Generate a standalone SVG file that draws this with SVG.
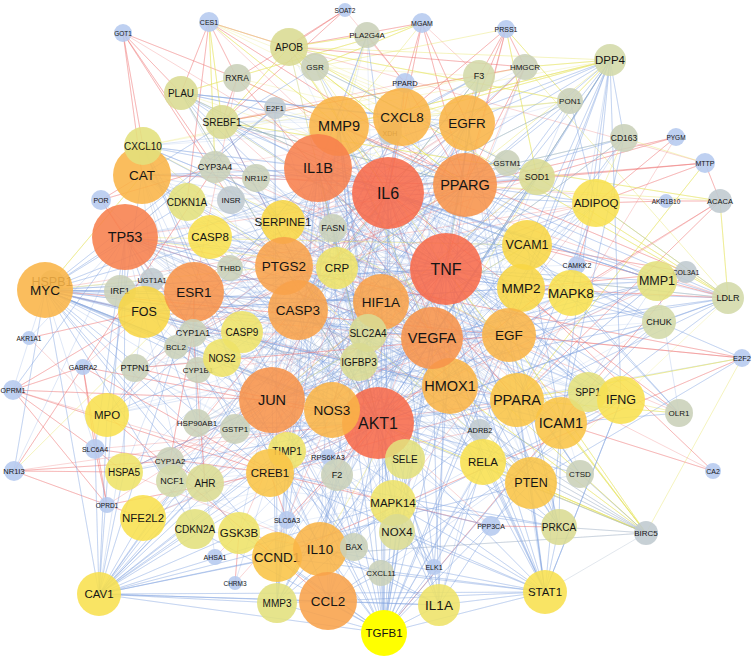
<svg xmlns="http://www.w3.org/2000/svg" width="754" height="658" viewBox="0 0 754 658">
<style>
.e{fill:none;stroke-width:.8;stroke-linejoin:round;stroke-linecap:round}
.m{stroke-width:.5}
.b{stroke:#7ea4e2;stroke-opacity:.33}
.r{stroke:#ec6f6f;stroke-opacity:.36}
.y{stroke:#e6e35e;stroke-opacity:.5}
.g{stroke:#9eb0c4;stroke-opacity:.38}
circle{fill-opacity:.88}
text{font-family:"Liberation Sans",Arial,sans-serif;text-anchor:middle;dominant-baseline:central;fill:#151515}
.c1{fill:#f76a4a}.c2{fill:#f7804c}.c3{fill:#f7934a}.c4{fill:#f8a24a}.c5{fill:#f9b447}.c6{fill:#f9c446}.c7{fill:#f8d644}.c8{fill:#f8e04e}.c9{fill:#eee368}.c10{fill:#e2e07c}.c11{fill:#dadb92}.c12{fill:#d3d9a8}.c13{fill:#c9d0b8}.c14{fill:#bfc9cf}.c15{fill:#b5c9ef}.tg{fill:#ffff00;fill-opacity:1}
.t6{font-size:6.5px}.t7{font-size:7px}.t75{font-size:7.5px}.t8{font-size:8px}.t85{font-size:8.5px}.t9{font-size:9px}.t10{font-size:10px}.t11{font-size:11.5px}.t12{font-size:12.5px}.t13{font-size:13.5px}.t14{font-size:14.5px}.t15{font-size:16px}
</style>
<rect width="754" height="658" fill="#fff"/>
<g id="edges">
<path class="e m b" d="M446 269L194 292 509 335 125 237 432 338 142 175 378 423 283 222 450 386 210 237 521 288 242 332 561 423 272 400 465 185 298 310 531 483 318 168 483 462 144 312 388 193 287 451 527 245 222 358 402 117 359 362 339 126 393 503 467 123 270 473 596 203 332 410 537 177 381 302 571 293 284 266 588 392 368 333 621 400 337 268 517 400 197 423 446 269"/>
<path class="e m b" d="M381 302L125 237 450 386 194 292 318 168 272 400 402 117 298 310 527 245 378 423 142 175 432 338 210 237 509 335 222 358 465 185 242 332 531 483 284 266 561 423 337 268 393 503 339 126 359 362 144 312 521 288 287 451 446 269 270 473 388 193 332 410 571 293 235 429 483 462 368 333 517 400 176 347 467 123 120 291 381 302"/>
<path class="e m b" d="M298 310L446 269 242 332 388 193 222 358 318 168 359 362 465 185 287 451 432 338 197 423 339 126 235 429 402 117 193 333 467 123 176 347 527 245 135 368 521 288 144 312 509 335 210 237 450 386 283 222 378 423 230 268 483 462 215 167 561 423 187 202 517 400 256 178 393 503 333 228 531 483 337 268 298 310"/>
<path class="e m b" d="M222 358L378 423 210 237 332 410 143 146 272 400 231 200 381 302 142 175 446 269 120 291 368 333 107 415 432 338 124 472 450 386 205 483 393 503 239 533 405 459 143 518 378 423 195 529 320 549 172 481 270 473 170 461 287 451 135 368 337 475 197 423 298 310"/>
<path class="e m b" d="M509 335L388 193 561 423 318 168 571 293 378 423 527 245 272 400 537 177 432 338 596 203 450 386 521 288 446 269 588 392 402 117 531 483 465 185 483 462 339 126 621 400 381 302 657 281 517 400 659 322 432 338 577 265 446 269 559 527 388 193 580 474 467 123 509 335"/>
<path class="e m b" d="M339 126L181 93 402 117 222 122 467 123 143 146 465 185 215 167 388 193 187 202 318 168 256 178 446 269 283 222 537 177 231 200 527 245 333 228 596 203 275 108 388 193 315 67 432 338 289 47 378 423 367 35 298 310 479 76 284 266 525 67 318 168 570 101 339 126"/>
<path class="e m r" d="M125 237L446 269 144 312 378 423 194 292 467 123 215 167 432 338 193 333 509 335 198 370 388 193 170 461 465 185 142 175 517 400 270 473 339 126 272 400 537 177 283 222 450 386 596 203 298 310"/>
<path class="e m y" d="M181 93L465 185 237 78 402 117 209 22 467 123 289 47 537 177 315 67 479 76 222 122 525 67 143 146 610 60 339 126 570 101 388 193 624 138 446 269 728 298 531 483 646 533 561 423"/>
<path class="e b" d="M446 269L378 423 388 193 272 400 465 185 298 310 467 123 328 601 318 168 450 386 125 237 432 338 142 175 531 483 339 126 561 423 194 292 509 335 144 312 517 400 284 266 483 462 402 117 320 549 381 302 45 290 446 269"/>
<path class="e b" d="M388 193L125 237 378 423 465 185 272 400 446 269 277 557 318 168 432 338 194 292 270 473 467 123 332 410 402 117 298 310 561 423 45 290 450 386 142 175 320 549 339 126 531 483 144 312 521 288 210 237 527 245 284 266 621 400 381 302 328 601 446 269"/>
<path class="e b" d="M378 423L318 168 517 400 125 237 381 302 467 123 272 400 596 203 298 310 393 503 388 193 143 518 446 269 270 473 432 338 45 290 561 423 402 117 194 292 483 462 339 126 277 557 465 185 320 549 509 335 142 175 450 386 284 266 531 483 318 168"/>
<path class="e b" d="M283 222L446 269 210 237 378 423 337 268 388 193 222 358 465 185 242 332 509 335 107 415 318 168 239 533 432 338 405 459 125 237 195 529 381 302 287 451 339 126 368 333 571 293 359 362 298 310 397 532 388 193 205 483 194 292 124 472 272 400 588 392 318 168 657 281 378 423 537 177 446 269"/>
<path class="e b" d="M143 146L446 269 187 202 378 423 222 122 465 185 142 175 527 245 144 312 521 288 272 400 561 423 125 237 483 462 320 549 388 193 277 557 432 338 143 518 450 386 45 290 393 503 318 168 270 473 378 423 339 126 332 410 467 123 320 549"/>
<path class="e b" d="M446 269L318 168 378 423 339 126 432 338 388 193 298 310 446 269 272 400 402 117 381 302 465 185 284 266 378 423 194 292 446 269 450 386 388 193 332 410 318 168 432 338 125 237 446 269"/>
<path class="e g" d="M230 268L388 193 120 291 378 423 176 347 446 269 197 423 432 338 135 368 465 185 235 429 318 168 193 333 450 386 231 200 509 335 256 178 378 423 215 167 517 400 333 228 272 400 275 108 125 237 198 370 142 175 152 280 194 292"/>
<path class="e r" d="M142 175L465 185 193 333 467 123 144 312 432 338 125 237 537 177 194 292 596 203 45 290 517 400 270 473 446 269 215 167 388 193 450 386 332 410 402 117 272 400 509 335 283 222 561 423 222 122 378 423"/>
<path class="e r" d="M270 473L378 423 143 518 272 400 124 472 320 549 239 533 388 193 170 461 446 269 205 483 432 338"/>
<path class="e y" d="M388 193L181 93 378 423 289 47 465 185 222 122 446 269 479 76 298 310 610 60 432 338 315 67 509 335 143 146 531 483 337 268 125 237 527 245 272 400 537 177 320 549"/>
<path class="e r" d="M123 33L237 78 123 33 181 93 123 33 143 146 123 33 142 175 123 33 215 167 123 33 231 200 123 33 388 193"/>
<path class="e r" d="M209 22L181 93 209 22 237 78 209 22 289 47 209 22 187 202 209 22 465 185 209 22 388 193"/>
<path class="e y" d="M209 22L222 122 209 22 215 167 209 22 339 126 209 22 289 47"/>
<path class="e r" d="M345 10L289 47 345 10 237 78 345 10 222 122 345 10 405 83"/>
<path class="e r" d="M422 23L289 47 422 23 405 83 422 23 467 123 422 23 388 193 422 23 465 185 422 23 479 76"/>
<path class="e y" d="M422 23L315 67 422 23 181 93 422 23 339 126"/>
<path class="e r" d="M506 29L479 76 506 29 467 123 506 29 525 67 506 29 465 185 506 29 402 117 506 29 446 269"/>
<path class="e y" d="M506 29L570 101 506 29 537 177 506 29 315 67"/>
<path class="e r" d="M405 83L402 117 405 83 465 185 405 83 367 35 405 83 222 122"/>
<path class="e b" d="M405 83L388 193 405 83 446 269"/>
<path class="e r" d="M101 200L142 175 101 200 125 237 101 200 215 167 101 200 193 333"/>
<path class="e b" d="M101 200L194 292"/>
<path class="e r" d="M676 137L596 203 676 137 465 185 676 137 537 177 676 137 517 400"/>
<path class="e r" d="M705 163L465 185 705 163 537 177 705 163 596 203 705 163 720 201 705 163 289 47"/>
<path class="e y" d="M705 163L517 400 705 163 624 138"/>
<path class="e r" d="M666 201L720 201 666 201 596 203 666 201 465 185"/>
<path class="e r" d="M720 201L517 400 720 201 571 293 720 201 509 335"/>
<path class="e y" d="M720 201L728 298 720 201 222 122 720 201 465 185"/>
<path class="e r" d="M577 265L378 423 577 265 571 293 577 265 596 203 577 265 393 503"/>
<path class="e r" d="M686 272L521 288 686 272 657 281 686 272 527 245 686 272 339 126 686 272 384 633 686 272 287 451"/>
<path class="e r" d="M742 358L125 237 742 358 277 557 742 358 45 290 742 358 509 335"/>
<path class="e b" d="M742 358L659 322 742 358 531 483 742 358 378 423"/>
<path class="e y" d="M742 358L517 400 742 358 646 533"/>
<path class="e y" d="M646 533L531 483 646 533 561 423 646 533 432 338 646 533 378 423 646 533 446 269 646 533 509 335 646 533 450 386 646 533 483 462"/>
<path class="e g" d="M646 533L559 527 646 533 580 474 646 533 125 237 646 533 298 310 646 533 242 332 646 533 45 290 646 533 277 557 646 533 545 592"/>
<path class="e r" d="M713 471L561 423 713 471 521 288 713 471 381 302"/>
<path class="e b" d="M679 413L561 423 679 413 527 245 679 413 446 269 679 413 465 185 679 413 657 281"/>
<path class="e y" d="M679 413L517 400 679 413 621 400"/>
<path class="e r" d="M679 413L388 193 679 413 337 268"/>
<path class="e b" d="M728 298L659 322 728 298 571 293 728 298 509 335 728 298 432 338 728 298 446 269 728 298 378 423 728 298 517 400 728 298 388 193 728 298 465 185 728 298 561 423 728 298 657 281"/>
<path class="e r" d="M728 298L521 288 728 298 527 245 728 298 222 122"/>
<path class="e y" d="M728 298L596 203 728 298 537 177 728 298 289 47 728 298 525 67"/>
<path class="e b" d="M610 60L537 177 610 60 596 203 610 60 465 185 610 60 446 269 610 60 388 193 610 60 432 338 610 60 509 335 610 60 521 288 610 60 527 245 610 60 378 423 610 60 561 423 610 60 318 168 610 60 467 123 610 60 621 400 610 60 624 138 610 60 571 293"/>
<path class="e y" d="M610 60L525 67 610 60 402 117 610 60 339 126 610 60 570 101 610 60 289 47"/>
<path class="e r" d="M525 67L465 185 525 67 222 122 525 67 289 47 525 67 467 123 525 67 378 423"/>
<path class="e b" d="M525 67L388 193 525 67 446 269"/>
<path class="e b" d="M570 101L465 185 570 101 446 269 570 101 388 193 570 101 596 203 570 101 537 177"/>
<path class="e y" d="M570 101L289 47 570 101 402 117"/>
<path class="e b" d="M624 138L446 269 624 138 388 193 624 138 320 549 624 138 561 423 624 138 465 185 624 138 328 601"/>
<path class="e y" d="M624 138L596 203"/>
<path class="e b" d="M479 76L446 269 479 76 388 193 479 76 432 338 479 76 318 168 479 76 402 117 479 76 467 123"/>
<path class="e r" d="M479 76L337 475"/>
<path class="e b" d="M367 35L388 193 367 35 318 168 367 35 284 266"/>
<path class="e y" d="M367 35L289 47 367 35 339 126"/>
<path class="e b" d="M315 67L142 175 315 67 537 177 315 67 388 193"/>
<path class="e y" d="M289 47L388 193 289 47 465 185 289 47 222 122 289 47 446 269"/>
<path class="e r" d="M237 78L465 185 237 78 517 400 237 78 222 122 237 78 194 292"/>
<path class="e b" d="M181 93L446 269 181 93 318 168 181 93 432 338 181 93 339 126 181 93 402 117 181 93 388 193 181 93 283 222 181 93 467 123 181 93 378 423 181 93 298 310"/>
<path class="e b" d="M222 122L465 185 222 122 378 423 222 122 388 193 222 122 446 269"/>
<path class="e b" d="M275 108L125 237 275 108 45 290 275 108 277 557 275 108 378 423"/>
<path class="e b" d="M143 146L621 400 143 146 446 269 143 146 388 193 143 146 328 601 143 146 320 549 143 146 318 168 143 146 402 117"/>
<path class="e b" d="M45 290L125 237 45 290 194 292 45 290 144 312 45 290 272 400 45 290 378 423 45 290 277 557 45 290 120 291 45 290 446 269 45 290 388 193 45 290 432 338 45 290 298 310 45 290 381 302 45 290 467 123 45 290 195 529 45 290 187 202 45 290 531 483 45 290 270 473 45 290 239 533 45 290 320 549 45 290 332 410 45 290 450 386 45 290 176 347 45 290 152 280"/>
<path class="e y" d="M45 290L142 175 45 290 284 266"/>
<path class="e r" d="M29 338L144 312 29 338 107 415"/>
<path class="e b" d="M29 338L125 237"/>
<path class="e r" d="M83 367L13 390 83 367 95 449 83 367 270 473 83 367 107 505 83 367 378 423 83 367 144 312"/>
<path class="e r" d="M13 390L95 449 13 390 107 505 13 390 270 473 13 390 144 312 13 390 272 400 13 390 393 503"/>
<path class="e b" d="M13 390L125 237 13 390 45 290"/>
<path class="e r" d="M95 449L107 505 95 449 124 472 95 449 270 473 95 449 378 423"/>
<path class="e b" d="M95 449L125 237 95 449 45 290"/>
<path class="e r" d="M14 471L170 461 14 471 124 472 14 471 143 518 14 471 215 167 14 471 517 400"/>
<path class="e b" d="M14 471L45 290 14 471 125 237"/>
<path class="e y" d="M14 471L194 292"/>
<path class="e r" d="M107 505L270 473 107 505 272 400"/>
<path class="e b" d="M124 472L378 423 124 472 125 237 124 472 272 400 124 472 298 310"/>
<path class="e r" d="M170 461L205 483 170 461 193 333 170 461 172 481"/>
<path class="e b" d="M215 557L197 423"/>
<path class="e r" d="M215 557L239 533"/>
<path class="e r" d="M235 583L239 533 235 583 378 423"/>
<path class="e b" d="M235 583L270 473"/>
<path class="e b" d="M99 594L143 518 99 594 195 529 99 594 239 533 99 594 277 557 99 594 320 549 99 594 378 423 99 594 272 400 99 594 332 410 99 594 270 473 99 594 205 483 99 594 124 472 99 594 194 292 99 594 125 237 99 594 45 290 99 594 328 601 99 594 277 603 99 594 384 633 99 594 393 503 99 594 545 592 99 594 432 338 99 594 446 269 99 594 467 123 99 594 439 605 99 594 107 415 99 594 95 449 99 594 531 483 99 594 388 193 99 594 381 302 99 594 298 310 99 594 144 312"/>
<path class="e b" d="M384 633L328 601 384 633 320 549 384 633 393 503 384 633 397 532 384 633 378 423 384 633 272 400 384 633 432 338 384 633 446 269 384 633 388 193 384 633 277 557 384 633 270 473 384 633 450 386 384 633 531 483 384 633 561 423 384 633 354 547 384 633 381 573 384 633 277 603 384 633 439 605 384 633 434 567 384 633 483 462 384 633 405 459 384 633 509 335 384 633 545 592 384 633 239 533 384 633 195 529 384 633 381 302 384 633 339 126 384 633 318 168 384 633 521 288 384 633 287 451 384 633 332 410 384 633 517 400"/>
<path class="e b" d="M439 605L318 168 439 605 388 193 439 605 446 269 439 605 328 601 439 605 320 549 439 605 378 423 439 605 561 423 439 605 393 503 439 605 483 462 439 605 545 592 439 605 381 573 439 605 432 338 439 605 509 335"/>
<path class="e b" d="M545 592L531 483 545 592 561 423 545 592 483 462 545 592 621 400 545 592 320 549 545 592 388 193 545 592 446 269 545 592 378 423 545 592 272 400 545 592 393 503 545 592 277 557 545 592 432 338 545 592 450 386 545 592 509 335 545 592 517 400 545 592 328 601 545 592 397 532 545 592 559 527 545 592 270 473 545 592 318 168 545 592 467 123"/>
<path class="e b" d="M277 603L328 601 277 603 320 549 277 603 287 451 277 603 277 557 277 603 272 400 277 603 378 423 277 603 339 126 277 603 446 269 277 603 318 168 277 603 657 281 277 603 521 288"/>
<path class="e b" d="M559 527L378 423 559 527 432 338 559 527 467 123 559 527 446 269 559 527 531 483 559 527 483 462 559 527 561 423 559 527 393 503 559 527 270 473 559 527 509 335 559 527 517 400"/>
<path class="e r" d="M491 526L559 527 491 526 270 473 491 526 378 423"/>
<path class="e b" d="M491 526L393 503 491 526 332 410"/>
<path class="e b" d="M434 567L393 503 434 567 272 400 434 567 467 123 434 567 378 423 434 567 571 293 434 567 144 312"/>
<path class="e b" d="M381 573L320 549 381 573 328 601 381 573 545 592 381 573 143 146 381 573 621 400"/>
<path class="e b" d="M354 547L125 237 354 547 378 423 354 547 298 310 354 547 176 347 354 547 272 400 354 547 242 332"/>
<path class="e b" d="M397 532L378 423 397 532 432 338 397 532 381 302 397 532 450 386"/>
<path class="e b" d="M580 474L446 269 580 474 378 423 580 474 298 310 580 474 388 193 580 474 531 483"/>
<path class="e b" d="M537 177L142 175 537 177 446 269 537 177 388 193 537 177 378 423 537 177 450 386"/>
<path class="e b" d="M596 203L446 269 596 203 388 193 596 203 378 423 596 203 465 185 596 203 517 400 596 203 728 298"/>
<path class="e b" d="M657 281L521 288 657 281 339 126 657 281 287 451 657 281 446 269 657 281 318 168 657 281 388 193 657 281 272 400 657 281 432 338 657 281 561 423"/>
<path class="e b" d="M659 322L483 462 659 322 446 269 659 322 378 423 659 322 388 193 659 322 561 423 659 322 527 245 659 322 571 293 659 322 272 400 659 322 318 168"/>
<path class="e b" d="M621 400L545 592 621 400 320 549 621 400 446 269 621 400 388 193 621 400 318 168 621 400 561 423 621 400 328 601 621 400 588 392"/>
<path class="e b" d="M588 392L446 269 588 392 378 423 588 392 339 126 588 392 432 338"/>
<path class="e b" d="M571 293L378 423 571 293 272 400 571 293 446 269 571 293 125 237 571 293 388 193"/>
<path class="e b" d="M527 245L446 269 527 245 318 168 527 245 388 193 527 245 561 423 527 245 378 423"/>
<path class="e b" d="M107 415L388 193 107 415 446 269 107 415 318 168 107 415 142 175 107 415 194 292"/>
<path class="e r" d="M107 415L328 601 107 415 402 117"/>
<path class="e b" d="M235 429L272 400 235 429 378 423 235 429 125 237 235 429 142 175"/>
<path class="e b" d="M197 423L378 423 197 423 125 237 197 423 194 292 197 423 272 400"/>
<path class="e r" d="M135 368L378 423 135 368 509 335 135 368 465 185"/>
<path class="e r" d="M193 333L194 292 193 333 205 483 193 333 125 237"/>
<path class="e b" d="M480 430L378 423 480 430 446 269 480 430 272 400"/>
<path class="e r" d="M480 430L270 473"/>
<path class="e b" d="M328 457L378 423 328 457 270 473 328 457 125 237"/>
<path class="e r" d="M287 520L270 473 287 520 378 423 287 520 332 410"/>
<path class="e b" d="M337 475L446 269 337 475 378 423 337 475 320 549 337 475 328 601"/>
<path class="e b" d="M507 163L142 175 507 163 465 185 507 163 125 237"/>
<path class="e b" d="M333 228L465 185 333 228 378 423 333 228 388 193"/>
</g>
<g id="nodes">
<g id="n-XDH"><circle class="c14" cx="390" cy="133" r="12"/><text class="t7" x="390" y="133">XDH</text></g>
<g id="n-HSPB1"><circle class="c13" cx="52" cy="282" r="12"/><text class="t12" x="52" y="282">HSPB1</text></g>
<g id="n-CYP1B1"><circle class="c13" cx="198" cy="370" r="13"/><text class="t8" x="198" y="370">CYP1B1</text></g>
<g id="n-PPARD"><circle class="c15" cx="405" cy="83" r="10"/><text class="t75" x="405" y="83">PPARD</text></g>
<g id="n-COL3A1"><circle class="c14" cx="686" cy="272" r="11"/><text class="t7" x="686" y="272">COL3A1</text></g>
<g id="n-GOT1"><circle class="c15" cx="123" cy="33" r="9"/><text class="t6" x="123" y="33">GOT1</text></g>
<g id="n-CES1"><circle class="c15" cx="209" cy="22" r="10"/><text class="t7" x="209" y="22">CES1</text></g>
<g id="n-SOAT2"><circle class="c15" cx="345" cy="10" r="7"/><text class="t6" x="345" y="10">SOAT2</text></g>
<g id="n-MGAM"><circle class="c15" cx="422" cy="23" r="10"/><text class="t7" x="422" y="23">MGAM</text></g>
<g id="n-PRSS1"><circle class="c15" cx="506" cy="29" r="9"/><text class="t7" x="506" y="29">PRSS1</text></g>
<g id="n-POR"><circle class="c15" cx="101" cy="200" r="10"/><text class="t7" x="101" y="200">POR</text></g>
<g id="n-PYGM"><circle class="c15" cx="676" cy="137" r="9"/><text class="t6" x="676" y="137">PYGM</text></g>
<g id="n-MTTP"><circle class="c15" cx="705" cy="163" r="10"/><text class="t7" x="705" y="163">MTTP</text></g>
<g id="n-AKR1B10"><circle class="c15" cx="666" cy="201" r="7"/><text class="t6" x="666" y="201">AKR1B10</text></g>
<g id="n-CAMKK2"><circle class="c15" cx="577" cy="265" r="9"/><text class="t7" x="577" y="265">CAMKK2</text></g>
<g id="n-E2F2"><circle class="c15" cx="742" cy="358" r="9"/><text class="t75" x="742" y="358">E2F2</text></g>
<g id="n-AKR1A1"><circle class="c15" cx="29" cy="338" r="7"/><text class="t6" x="29" y="338">AKR1A1</text></g>
<g id="n-GABRA2"><circle class="c15" cx="83" cy="367" r="8"/><text class="t7" x="83" y="367">GABRA2</text></g>
<g id="n-OPRM1"><circle class="c15" cx="13" cy="390" r="10"/><text class="t7" x="13" y="390">OPRM1</text></g>
<g id="n-SLC6A4"><circle class="c15" cx="95" cy="449" r="10"/><text class="t7" x="95" y="449">SLC6A4</text></g>
<g id="n-NR1I3"><circle class="c15" cx="14" cy="471" r="10"/><text class="t75" x="14" y="471">NR1I3</text></g>
<g id="n-OPRD1"><circle class="c15" cx="107" cy="505" r="8"/><text class="t6" x="107" y="505">OPRD1</text></g>
<g id="n-AHSA1"><circle class="c15" cx="215" cy="557" r="8"/><text class="t7" x="215" y="557">AHSA1</text></g>
<g id="n-CHRM3"><circle class="c15" cx="235" cy="583" r="7"/><text class="t6" x="235" y="583">CHRM3</text></g>
<g id="n-RPS6KA3"><circle class="c15" cx="328" cy="457" r="8"/><text class="t75" x="328" y="457">RPS6KA3</text></g>
<g id="n-SLC6A3"><circle class="c15" cx="287" cy="520" r="9"/><text class="t7" x="287" y="520">SLC6A3</text></g>
<g id="n-PPP3CA"><circle class="c15" cx="491" cy="526" r="10"/><text class="t7" x="491" y="526">PPP3CA</text></g>
<g id="n-ELK1"><circle class="c15" cx="434" cy="567" r="8"/><text class="t7" x="434" y="567">ELK1</text></g>
<g id="n-CA2"><circle class="c15" cx="713" cy="471" r="8"/><text class="t7" x="713" y="471">CA2</text></g>
<g id="n-APOB"><circle class="c11" cx="289" cy="47" r="19"/><text class="t10" x="289" y="47">APOB</text></g>
<g id="n-GSR"><circle class="c13" cx="315" cy="67" r="14"/><text class="t8" x="315" y="67">GSR</text></g>
<g id="n-PLA2G4A"><circle class="c13" cx="367" cy="35" r="13"/><text class="t8" x="367" y="35">PLA2G4A</text></g>
<g id="n-F3"><circle class="c12" cx="479" cy="76" r="16"/><text class="t9" x="479" y="76">F3</text></g>
<g id="n-HMGCR"><circle class="c13" cx="525" cy="67" r="13"/><text class="t8" x="525" y="67">HMGCR</text></g>
<g id="n-DPP4"><circle class="c12" cx="610" cy="60" r="16"/><text class="t11" x="610" y="60">DPP4</text></g>
<g id="n-PON1"><circle class="c13" cx="570" cy="101" r="13"/><text class="t8" x="570" y="101">PON1</text></g>
<g id="n-CD163"><circle class="c13" cx="624" cy="138" r="14"/><text class="t85" x="624" y="138">CD163</text></g>
<g id="n-ACACA"><circle class="c14" cx="720" cy="201" r="12"/><text class="t75" x="720" y="201">ACACA</text></g>
<g id="n-LDLR"><circle class="c12" cx="728" cy="298" r="16"/><text class="t9" x="728" y="298">LDLR</text></g>
<g id="n-MMP1"><circle class="c10" cx="657" cy="281" r="20"/><text class="t12" x="657" y="281">MMP1</text></g>
<g id="n-CHUK"><circle class="c12" cx="659" cy="322" r="17"/><text class="t9" x="659" y="322">CHUK</text></g>
<g id="n-OLR1"><circle class="c13" cx="679" cy="413" r="14"/><text class="t8" x="679" y="413">OLR1</text></g>
<g id="n-BIRC5"><circle class="c14" cx="646" cy="533" r="12"/><text class="t8" x="646" y="533">BIRC5</text></g>
<g id="n-CTSD"><circle class="c13" cx="580" cy="474" r="14"/><text class="t8" x="580" y="474">CTSD</text></g>
<g id="n-PLAU"><circle class="c11" cx="181" cy="93" r="17"/><text class="t10" x="181" y="93">PLAU</text></g>
<g id="n-RXRA"><circle class="c13" cx="237" cy="78" r="14"/><text class="t85" x="237" y="78">RXRA</text></g>
<g id="n-SREBF1"><circle class="c11" cx="222" cy="122" r="17"/><text class="t10" x="222" y="122">SREBF1</text></g>
<g id="n-E2F1"><circle class="c14" cx="275" cy="108" r="11"/><text class="t75" x="275" y="108">E2F1</text></g>
<g id="n-CYP3A4"><circle class="c13" cx="215" cy="167" r="16"/><text class="t9" x="215" y="167">CYP3A4</text></g>
<g id="n-NR1I2"><circle class="c13" cx="256" cy="178" r="14"/><text class="t8" x="256" y="178">NR1I2</text></g>
<g id="n-INSR"><circle class="c14" cx="231" cy="200" r="14"/><text class="t8" x="231" y="200">INSR</text></g>
<g id="n-CDKN1A"><circle class="c10" cx="187" cy="202" r="19"/><text class="t10" x="187" y="202">CDKN1A</text></g>
<g id="n-CAT"><circle class="c5" cx="142" cy="175" r="29"/><text class="t13" x="142" y="175">CAT</text></g>
<g id="n-CXCL10"><circle class="c10" cx="143" cy="146" r="19"/><text class="t10" x="143" y="146">CXCL10</text></g>
<g id="n-TP53"><circle class="c2" cx="125" cy="237" r="33"/><text class="t14" x="125" y="237">TP53</text></g>
<g id="n-FASN"><circle class="c13" cx="333" cy="228" r="14"/><text class="t9" x="333" y="228">FASN</text></g>
<g id="n-THBD"><circle class="c13" cx="230" cy="268" r="13"/><text class="t8" x="230" y="268">THBD</text></g>
<g id="n-IRF1"><circle class="c13" cx="120" cy="291" r="16"/><text class="t9" x="120" y="291">IRF1</text></g>
<g id="n-UGT1A1"><circle class="c14" cx="152" cy="280" r="12"/><text class="t75" x="152" y="280">UGT1A1</text></g>
<g id="n-MYC"><circle class="c5" cx="45" cy="290" r="28"/><text class="t13" x="45" y="290">MYC</text></g>
<g id="n-FOS"><circle class="c7" cx="144" cy="312" r="26"/><text class="t12" x="144" y="312">FOS</text></g>
<g id="n-ESR1"><circle class="c3" cx="194" cy="292" r="30"/><text class="t13" x="194" y="292">ESR1</text></g>
<g id="n-CYP1A1"><circle class="c13" cx="193" cy="333" r="14"/><text class="t9" x="193" y="333">CYP1A1</text></g>
<g id="n-BCL2"><circle class="c13" cx="176" cy="347" r="12"/><text class="t8" x="176" y="347">BCL2</text></g>
<g id="n-PTPN1"><circle class="c13" cx="135" cy="368" r="14"/><text class="t9" x="135" y="368">PTPN1</text></g>
<g id="n-CASP8"><circle class="c8" cx="210" cy="237" r="22"/><text class="t11" x="210" y="237">CASP8</text></g>
<g id="n-SERPINE1"><circle class="c7" cx="283" cy="222" r="22"/><text class="t11" x="283" y="222">SERPINE1</text></g>
<g id="n-MMP9"><circle class="c5" cx="339" cy="126" r="30"/><text class="t14" x="339" y="126">MMP9</text></g>
<g id="n-CXCL8"><circle class="c5" cx="402" cy="117" r="29"/><text class="t13" x="402" y="117">CXCL8</text></g>
<g id="n-IL1B"><circle class="c2" cx="318" cy="168" r="34"/><text class="t14" x="318" y="168">IL1B</text></g>
<g id="n-IL6"><circle class="c1" cx="388" cy="193" r="36"/><text class="t15" x="388" y="193">IL6</text></g>
<g id="n-EGFR"><circle class="c5" cx="467" cy="123" r="28"/><text class="t13" x="467" y="123">EGFR</text></g>
<g id="n-PPARG"><circle class="c3" cx="465" cy="185" r="32"/><text class="t14" x="465" y="185">PPARG</text></g>
<g id="n-GSTM1"><circle class="c13" cx="507" cy="163" r="13"/><text class="t8" x="507" y="163">GSTM1</text></g>
<g id="n-SOD1"><circle class="c11" cx="537" cy="177" r="18"/><text class="t9" x="537" y="177">SOD1</text></g>
<g id="n-ADIPOQ"><circle class="c8" cx="596" cy="203" r="24"/><text class="t11" x="596" y="203">ADIPOQ</text></g>
<g id="n-VCAM1"><circle class="c7" cx="527" cy="245" r="25"/><text class="t12" x="527" y="245">VCAM1</text></g>
<g id="n-MMP2"><circle class="c7" cx="521" cy="288" r="24"/><text class="t13" x="521" y="288">MMP2</text></g>
<g id="n-EGF"><circle class="c5" cx="509" cy="335" r="27"/><text class="t13" x="509" y="335">EGF</text></g>
<g id="n-MAPK8"><circle class="c8" cx="571" cy="293" r="23"/><text class="t13" x="571" y="293">MAPK8</text></g>
<g id="n-PTGS2"><circle class="c4" cx="284" cy="266" r="29"/><text class="t13" x="284" y="266">PTGS2</text></g>
<g id="n-CASP3"><circle class="c4" cx="298" cy="310" r="30"/><text class="t13" x="298" y="310">CASP3</text></g>
<g id="n-CRP"><circle class="c9" cx="337" cy="268" r="21"/><text class="t11" x="337" y="268">CRP</text></g>
<g id="n-TNF"><circle class="c1" cx="446" cy="269" r="36"/><text class="t15" x="446" y="269">TNF</text></g>
<g id="n-HIF1A"><circle class="c4" cx="381" cy="302" r="28"/><text class="t13" x="381" y="302">HIF1A</text></g>
<g id="n-SLC2A4"><circle class="c11" cx="368" cy="333" r="19"/><text class="t10" x="368" y="333">SLC2A4</text></g>
<g id="n-IGFBP3"><circle class="c11" cx="359" cy="362" r="19"/><text class="t10" x="359" y="362">IGFBP3</text></g>
<g id="n-HMOX1"><circle class="c5" cx="450" cy="386" r="28"/><text class="t14" x="450" y="386">HMOX1</text></g>
<g id="n-VEGFA"><circle class="c3" cx="432" cy="338" r="31"/><text class="t14" x="432" y="338">VEGFA</text></g>
<g id="n-CASP9"><circle class="c9" cx="242" cy="332" r="21"/><text class="t10" x="242" y="332">CASP9</text></g>
<g id="n-NOS2"><circle class="c9" cx="222" cy="358" r="19"/><text class="t10" x="222" y="358">NOS2</text></g>
<g id="n-MPO"><circle class="c8" cx="107" cy="415" r="22"/><text class="t11" x="107" y="415">MPO</text></g>
<g id="n-HSP90AB1"><circle class="c13" cx="197" cy="423" r="14"/><text class="t8" x="197" y="423">HSP90AB1</text></g>
<g id="n-GSTP1"><circle class="c13" cx="235" cy="429" r="15"/><text class="t8" x="235" y="429">GSTP1</text></g>
<g id="n-JUN"><circle class="c3" cx="272" cy="400" r="33"/><text class="t14" x="272" y="400">JUN</text></g>
<g id="n-AKT1"><circle class="c1" cx="378" cy="423" r="36"/><text class="t15" x="378" y="423">AKT1</text></g>
<g id="n-NOS3"><circle class="c5" cx="332" cy="410" r="28"/><text class="t13" x="332" y="410">NOS3</text></g>
<g id="n-SELE"><circle class="c10" cx="405" cy="459" r="20"/><text class="t10" x="405" y="459">SELE</text></g>
<g id="n-ADRB2"><circle class="c14" cx="480" cy="430" r="11"/><text class="t75" x="480" y="430">ADRB2</text></g>
<g id="n-PPARA"><circle class="c6" cx="517" cy="400" r="27"/><text class="t14" x="517" y="400">PPARA</text></g>
<g id="n-ICAM1"><circle class="c6" cx="561" cy="423" r="26"/><text class="t14" x="561" y="423">ICAM1</text></g>
<g id="n-SPP1"><circle class="c10" cx="588" cy="392" r="20"/><text class="t10" x="588" y="392">SPP1</text></g>
<g id="n-IFNG"><circle class="c8" cx="621" cy="400" r="24"/><text class="t12" x="621" y="400">IFNG</text></g>
<g id="n-PTEN"><circle class="c6" cx="531" cy="483" r="26"/><text class="t12" x="531" y="483">PTEN</text></g>
<g id="n-RELA"><circle class="c8" cx="483" cy="462" r="23"/><text class="t11" x="483" y="462">RELA</text></g>
<g id="n-TIMP1"><circle class="c9" cx="287" cy="451" r="19"/><text class="t10" x="287" y="451">TIMP1</text></g>
<g id="n-CREB1"><circle class="c6" cx="270" cy="473" r="24"/><text class="t11" x="270" y="473">CREB1</text></g>
<g id="n-F2"><circle class="c13" cx="337" cy="475" r="16"/><text class="t9" x="337" y="475">F2</text></g>
<g id="n-HSPA5"><circle class="c9" cx="124" cy="472" r="19"/><text class="t10" x="124" y="472">HSPA5</text></g>
<g id="n-CYP1A2"><circle class="c13" cx="170" cy="461" r="14"/><text class="t8" x="170" y="461">CYP1A2</text></g>
<g id="n-NCF1"><circle class="c12" cx="172" cy="481" r="16"/><text class="t9" x="172" y="481">NCF1</text></g>
<g id="n-AHR"><circle class="c11" cx="205" cy="483" r="19"/><text class="t10" x="205" y="483">AHR</text></g>
<g id="n-NFE2L2"><circle class="c8" cx="143" cy="518" r="23"/><text class="t11" x="143" y="518">NFE2L2</text></g>
<g id="n-CDKN2A"><circle class="c10" cx="195" cy="529" r="20"/><text class="t10" x="195" y="529">CDKN2A</text></g>
<g id="n-GSK3B"><circle class="c9" cx="239" cy="533" r="21"/><text class="t11" x="239" y="533">GSK3B</text></g>
<g id="n-MAPK14"><circle class="c9" cx="393" cy="503" r="23"/><text class="t11" x="393" y="503">MAPK14</text></g>
<g id="n-NOX4"><circle class="c11" cx="397" cy="532" r="18"/><text class="t11" x="397" y="532">NOX4</text></g>
<g id="n-CCND1"><circle class="c6" cx="277" cy="557" r="25"/><text class="t13" x="277" y="557">CCND1</text></g>
<g id="n-IL10"><circle class="c5" cx="320" cy="549" r="27"/><text class="t13" x="320" y="549">IL10</text></g>
<g id="n-BAX"><circle class="c13" cx="354" cy="547" r="14"/><text class="t85" x="354" y="547">BAX</text></g>
<g id="n-CCL2"><circle class="c4" cx="328" cy="601" r="29"/><text class="t13" x="328" y="601">CCL2</text></g>
<g id="n-CXCL11"><circle class="c13" cx="381" cy="573" r="13"/><text class="t8" x="381" y="573">CXCL11</text></g>
<g id="n-MMP3"><circle class="c10" cx="277" cy="603" r="20"/><text class="t10" x="277" y="603">MMP3</text></g>
<g id="n-IL1A"><circle class="c9" cx="439" cy="605" r="21"/><text class="t13" x="439" y="605">IL1A</text></g>
<g id="n-PRKCA"><circle class="c11" cx="559" cy="527" r="18"/><text class="t10" x="559" y="527">PRKCA</text></g>
<g id="n-STAT1"><circle class="c8" cx="545" cy="592" r="22"/><text class="t11" x="545" y="592">STAT1</text></g>
<g id="n-CAV1"><circle class="c8" cx="99" cy="594" r="22"/><text class="t11" x="99" y="594">CAV1</text></g>
<g id="n-TGFB1"><circle class="tg" cx="384" cy="633" r="23"/><text class="t11" x="384" y="633">TGFB1</text></g>
</g>
</svg>
